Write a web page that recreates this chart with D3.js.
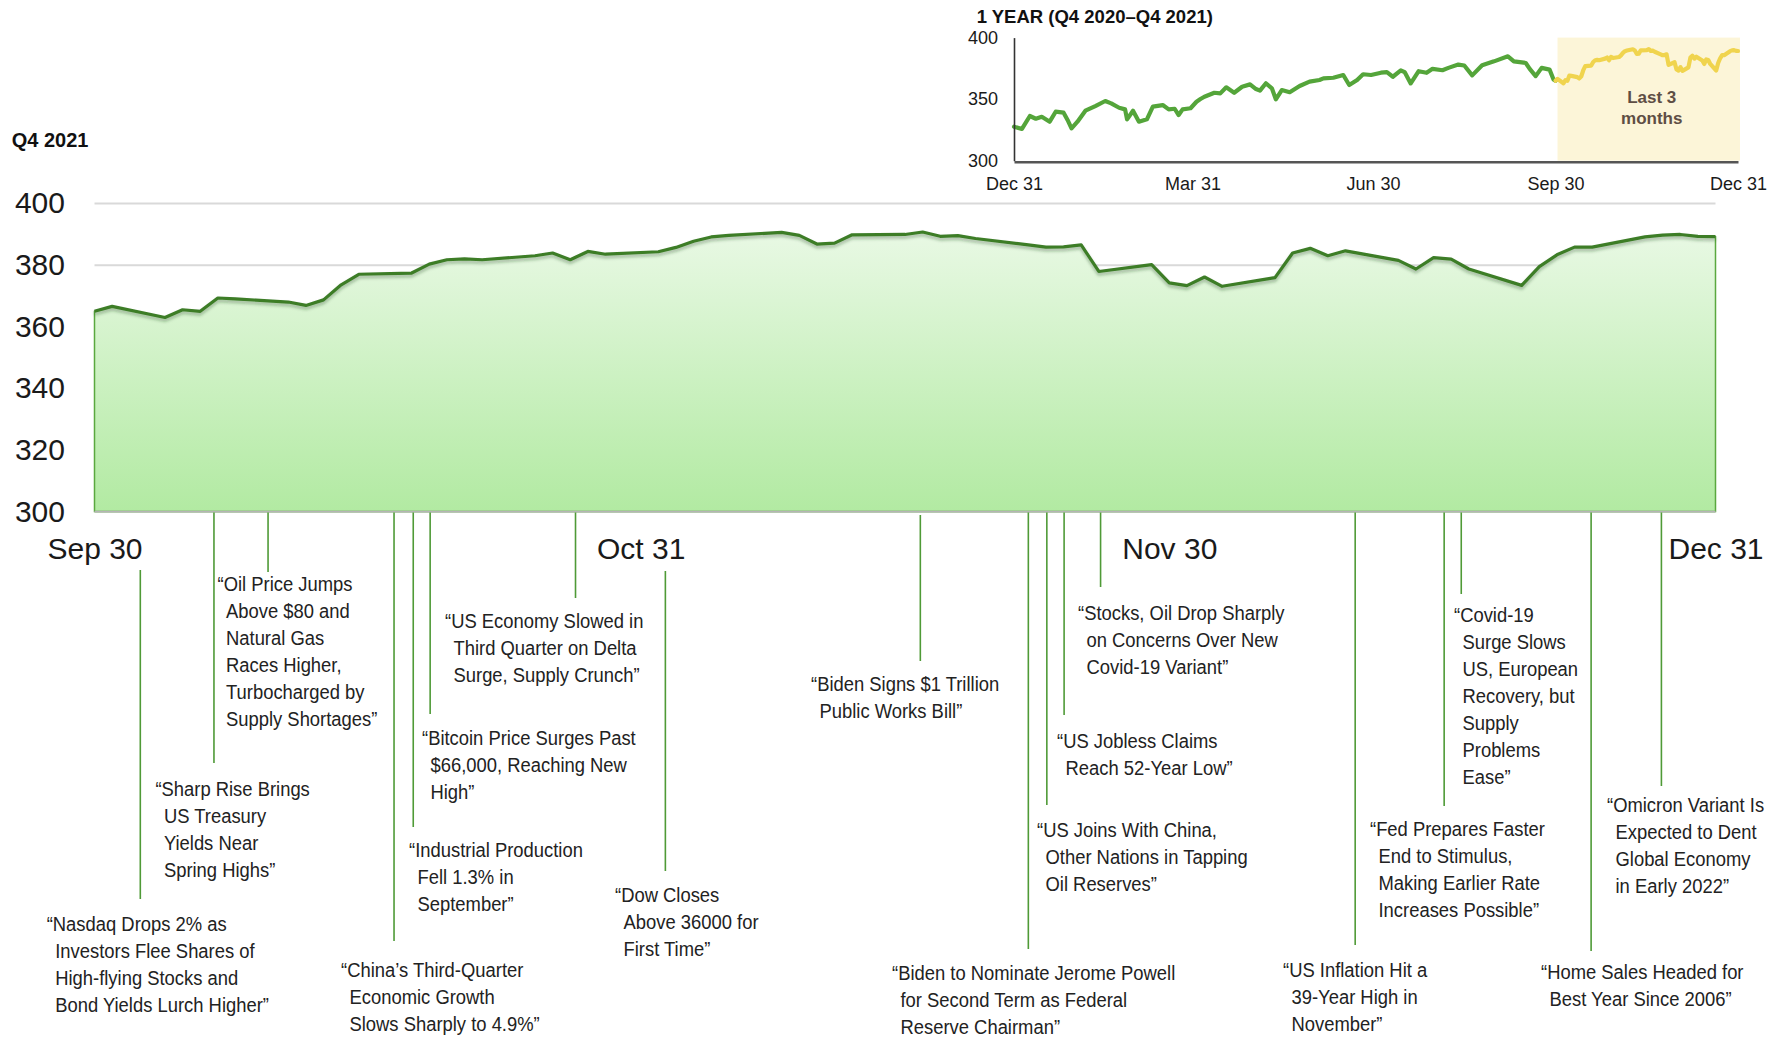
<!DOCTYPE html>
<html><head><meta charset="utf-8">
<script src="https://cdn.jsdelivr.net/npm/d3@7"></script>
<style>
html,body{margin:0;padding:0;background:#fff;}
svg{display:block;}
</style></head><body>
<svg id="chart" width="1785" height="1041"></svg>
<script>
// ---------------- DATA ----------------
// Q4 2021 daily index level (main chart, and the highlighted part of the inset)
const q4Dates = ["2021-09-30","2021-10-01","2021-10-04","2021-10-05","2021-10-06","2021-10-07","2021-10-08",
"2021-10-11","2021-10-12","2021-10-13","2021-10-14","2021-10-15","2021-10-18","2021-10-19","2021-10-20","2021-10-21","2021-10-22",
"2021-10-25","2021-10-26","2021-10-27","2021-10-28","2021-10-29","2021-11-01","2021-11-02","2021-11-03","2021-11-04","2021-11-05",
"2021-11-08","2021-11-09","2021-11-10","2021-11-11","2021-11-12","2021-11-15","2021-11-16","2021-11-17","2021-11-18","2021-11-19",
"2021-11-22","2021-11-23","2021-11-24","2021-11-25","2021-11-26","2021-11-29","2021-11-30","2021-12-01","2021-12-02","2021-12-03",
"2021-12-06","2021-12-07","2021-12-08","2021-12-09","2021-12-10","2021-12-13","2021-12-14","2021-12-15","2021-12-16","2021-12-17",
"2021-12-20","2021-12-21","2021-12-22","2021-12-23","2021-12-24","2021-12-27","2021-12-28","2021-12-29","2021-12-30","2021-12-31"];
const q4Values = [364.9,366.5,362.9,365.4,364.9,369.2,368.9,
367.9,366.8,368.6,373.5,376.9,377.3,380.2,381.6,381.9,381.6,
382.9,383.8,381.6,384.3,383.4,384.2,385.6,387.6,389.0,389.5,
390.5,389.5,386.7,387.0,389.7,389.8,390.6,389.2,389.4,388.5,
386.4,385.7,385.8,386.4,377.8,380.0,374.1,373.2,376.0,373.0,
375.8,383.8,385.3,382.9,384.5,381.4,378.6,382.3,381.8,378.6,
373.3,379.4,383.2,385.7,385.7,389.0,389.6,389.8,389.2,389.1];

// Earlier part of the one-year inset (Dec 31 2020 – Sep 29 2021)
const yearDates = ["2020-12-31","2021-01-04","2021-01-08","2021-01-11","2021-01-14","2021-01-18","2021-01-21","2021-01-25",
"2021-01-27","2021-01-29","2021-02-01","2021-02-05","2021-02-10","2021-02-15","2021-02-18","2021-02-22","2021-02-25","2021-02-26",
"2021-03-01","2021-03-04","2021-03-08","2021-03-11","2021-03-16","2021-03-19","2021-03-22","2021-03-24","2021-03-26","2021-03-30",
"2021-04-02","2021-04-04","2021-04-06","2021-04-11","2021-04-14","2021-04-17","2021-04-21","2021-04-25","2021-04-29","2021-05-02",
"2021-05-04","2021-05-07","2021-05-10","2021-05-12","2021-05-15","2021-05-19","2021-05-24","2021-05-29","2021-06-03","2021-06-05",
"2021-06-10","2021-06-15","2021-06-18","2021-06-22","2021-06-25","2021-06-29","2021-07-04","2021-07-07","2021-07-10","2021-07-14",
"2021-07-16","2021-07-19","2021-07-23","2021-07-27","2021-07-30","2021-08-04","2021-08-07","2021-08-12","2021-08-15","2021-08-19",
"2021-08-24","2021-08-30","2021-09-06","2021-09-09","2021-09-15","2021-09-17","2021-09-20","2021-09-23","2021-09-27","2021-09-29"];
const yearValues = [327.6,325.8,336.3,334.1,335.7,331.7,339.8,339.0,
333.1,326.3,331.7,340.6,344.4,348.5,346.6,343.0,341.7,333.6,
340.6,331.7,333.6,343.9,345.2,341.7,342.2,337.1,341.7,342.6,
347.9,350.1,352.0,355.2,354.7,359.6,355.2,360.1,362.0,358.2,
356.9,362.9,358.8,349.9,357.4,355.6,360.7,364.2,365.6,366.9,
367.4,369.6,361.5,365.6,370.2,369.6,371.5,371.9,368.2,373.3,
371.9,362.8,372.7,371.4,374.6,373.5,375.4,378.1,377.3,369.3,
377.5,380.7,384.8,380.7,379.4,374.6,368.7,375.4,374.0,366.0];

// Tick values and labels
const mainYTicks = [300,320,340,360,380,400];
const mainXTicks = ["2021-09-30","2021-10-31","2021-11-30","2021-12-31"];
const mainXTickLabels = ["Sep 30","Oct 31","Nov 30","Dec 31"];
const insetYTicks = [300,350,400];
const insetXTicks = ["2020-12-31","2021-03-31","2021-06-30","2021-09-30","2021-12-31"];
const insetXTickLabels = ["Dec 31","Mar 31","Jun 30","Sep 30","Dec 31"];
const mainTitle = "Q4 2021";
const insetTitle = "1 YEAR (Q4 2020\u2013Q4 2021)";
const highlightLabel = ["Last 3","months"];

// Headline events: where each leader meets the time axis, and the headline
const eventDates = ["2021-10-02T14:24","2021-10-06T18:43","2021-10-09T20:24","2021-10-17T00:00","2021-10-18T02:10",
"2021-10-19T01:12","2021-10-27T07:12","2021-11-01T09:36","2021-11-15T20:53","2021-11-22T00:00","2021-11-23T01:12",
"2021-11-24T00:43","2021-11-26T02:24","2021-12-10T13:12","2021-12-15T14:24","2021-12-16T13:41","2021-12-23T22:34","2021-12-27T22:19"];
const eventTexts = [
 ["\u201CNasdaq Drops 2% as","Investors Flee Shares of","High-flying Stocks and","Bond Yields Lurch Higher\u201D"],
 ["\u201CSharp Rise Brings","US Treasury","Yields Near","Spring Highs\u201D"],
 ["\u201COil Price Jumps","Above $80 and","Natural Gas","Races Higher,","Turbocharged by","Supply Shortages\u201D"],
 ["\u201CChina\u2019s Third-Quarter","Economic Growth","Slows Sharply to 4.9%\u201D"],
 ["\u201CIndustrial Production","Fell 1.3% in","September\u201D"],
 ["\u201CBitcoin Price Surges Past","$66,000, Reaching New","High\u201D"],
 ["\u201CUS Economy Slowed in","Third Quarter on Delta","Surge, Supply Crunch\u201D"],
 ["\u201CDow Closes","Above 36000 for","First Time\u201D"],
 ["\u201CBiden Signs $1 Trillion","Public Works Bill\u201D"],
 ["\u201CBiden to Nominate Jerome Powell","for Second Term as Federal","Reserve Chairman\u201D"],
 ["\u201CUS Joins With China,","Other Nations in Tapping","Oil Reserves\u201D"],
 ["\u201CUS Jobless Claims","Reach 52-Year Low\u201D"],
 ["\u201CStocks, Oil Drop Sharply","on Concerns Over New","Covid-19 Variant\u201D"],
 ["\u201CUS Inflation Hit a","39-Year High in","November\u201D"],
 ["\u201CFed Prepares Faster","End to Stimulus,","Making Earlier Rate","Increases Possible\u201D"],
 ["\u201CCovid-19","Surge Slows","US, European","Recovery, but","Supply","Problems","Ease\u201D"],
 ["\u201CHome Sales Headed for","Best Year Since 2006\u201D"],
 ["\u201COmicron Variant Is","Expected to Dent","Global Economy","in Early 2022\u201D"]
];

// ---------------- LAYOUT (positions only) ----------------
// text left x, first-line centre y, leader top (null = plot bottom), leader bottom
const eventLayout = [
 {tx:46.7, ty:924, top:570, bot:899},
 {tx:155.4,ty:789, top:null,bot:763},
 {tx:217.5,ty:584, top:null,bot:572},
 {tx:341,  ty:970, top:null,bot:941},
 {tx:409,  ty:850, top:null,bot:827},
 {tx:422,  ty:738, top:null,bot:714},
 {tx:445,  ty:621, top:null,bot:598},
 {tx:615,  ty:895, top:571, bot:871},
 {tx:811,  ty:684, top:515, bot:661},
 {tx:892,  ty:973, top:null,bot:949},
 {tx:1037, ty:830, top:null,bot:805},
 {tx:1057, ty:741, top:null,bot:715},
 {tx:1078, ty:613, top:null,bot:587},
 {tx:1283, ty:970, top:null,bot:945},
 {tx:1370, ty:829, top:null,bot:806},
 {tx:1454, ty:615, top:null,bot:594},
 {tx:1541, ty:972, top:null,bot:951},
 {tx:1607, ty:805, top:null,bot:786}
];
const ANN_REF_LINE = "\u201CBiden to Nominate Jerome Powell";
const ANN_REF_WIDTH = 283.5;   // width of that line in the reference

// ---------------- DRAW ----------------
const parseDay = d3.timeParse("%Y-%m-%d");
const parseDT = d3.timeParse("%Y-%m-%dT%H:%M");
const svg = d3.select("#chart");
const REG = "'Liberation Sans', Arial, sans-serif";

const q4 = q4Dates.map((d,i)=>({date:parseDay(d), value:q4Values[i]}));
const yr = yearDates.map((d,i)=>({date:parseDay(d), value:yearValues[i]}));

// main scales
const x = d3.scaleTime().domain([parseDay(mainXTicks[0]), parseDay(mainXTicks[mainXTicks.length-1])]).range([94.5,1715.5]);
const y = d3.scaleLinear().domain([300,400]).range([511.5,203]);

const defs = svg.append("defs");
const grad = defs.append("linearGradient").attr("id","areaGrad")
  .attr("gradientUnits","userSpaceOnUse").attr("x1",0).attr("x2",0).attr("y1",y(400)).attr("y2",y(300));
grad.append("stop").attr("offset","0%").attr("stop-color","#eefaeb");
grad.append("stop").attr("offset","100%").attr("stop-color","#b2eaa2");
const filt = defs.append("filter").attr("id","shadow").attr("x","-5%").attr("y","-50%").attr("width","110%").attr("height","200%");
filt.append("feDropShadow").attr("dx",0).attr("dy",2.5).attr("stdDeviation",1.6)
  .attr("flood-color","#1e3d12").attr("flood-opacity",0.35);

// gridlines
svg.append("g").attr("transform",`translate(${x.range()[0]},0)`)
  .call(d3.axisLeft(y).tickValues(mainYTicks).tickSize(-(x.range()[1]-x.range()[0])).tickFormat(""))
  .call(g=>g.select(".domain").remove())
  .call(g=>g.selectAll("line").attr("stroke","#d9d9d9").attr("stroke-width",2));

// area
const area = d3.area().x(d=>x(d.date)).y0(y(300)).y1(d=>y(d.value));
svg.append("path").datum(q4).attr("d",area).attr("fill","url(#areaGrad)")
  .attr("stroke","#5aa83f").attr("stroke-width",1.5);

// baseline
svg.append("line").attr("x1",x.range()[0]).attr("x2",x.range()[1]).attr("y1",y(300)).attr("y2",y(300))
  .attr("stroke","#b5b5b5").attr("stroke-width",1.5);

// line
const line = d3.line().x(d=>x(d.date)).y(d=>y(d.value));
svg.append("path").datum(q4).attr("d",line).attr("fill","none")
  .attr("stroke","#3c7d28").attr("stroke-width",3.2).attr("stroke-linejoin","round").attr("filter","url(#shadow)");

// y axis labels
svg.append("g").attr("transform",`translate(${x.range()[0]},0)`)
  .call(d3.axisLeft(y).tickValues(mainYTicks).tickSize(0).tickPadding(29.5))
  .call(g=>g.select(".domain").remove())
  .call(g=>g.selectAll("text").attr("font-family",REG).attr("font-size",30).attr("fill","#1a1a1a"));

// x axis labels
svg.append("g").attr("transform",`translate(0,${y(300)})`)
  .call(d3.axisBottom(x).tickValues(mainXTicks.map(parseDay)).tickSize(0).tickPadding(26)
    .tickFormat((d,i)=>mainXTickLabels[i]))
  .call(g=>g.select(".domain").remove())
  .call(g=>g.selectAll("text").attr("font-family",REG).attr("font-size",30).attr("fill","#1a1a1a"));

// title
svg.append("text").attr("x",11.7).attr("y",146.7).text(mainTitle)
  .attr("font-family",REG).attr("font-weight","bold").attr("font-size",20).attr("fill","#111");

// ---- annotations (condensed headline text) ----
const probe = svg.append("text").attr("font-family",REG).attr("font-size",21).text(ANN_REF_LINE);
const kx = ANN_REF_WIDTH / probe.node().getComputedTextLength();
probe.remove();

const LH = 27, INDENT = 8.5;
const ann = svg.append("g");
eventDates.forEach((ds,i)=>{
  const L = eventLayout[i];
  const ex = x(parseDT(ds));
  ann.append("line").attr("x1",ex).attr("x2",ex)
    .attr("y1", L.top==null ? y(300)+1 : L.top).attr("y2",L.bot)
    .attr("stroke","#4f9a37").attr("stroke-width",1.6);
  const t = ann.append("text").attr("transform",`translate(${L.tx},0) scale(${kx},1)`)
    .attr("font-family",REG).attr("font-size",21).attr("fill","#222");
  eventTexts[i].forEach((s,j)=>{
    t.append("tspan").attr("x", j===0 ? 0 : INDENT/kx).attr("y", L.ty + j*LH + 7.5).text(s);
  });
});

// ---------------- INSET ----------------
const xi = d3.scaleTime().domain([parseDay(insetXTicks[0]), parseDay(insetXTicks[insetXTicks.length-1])]).range([1014,1738]);
const yi = d3.scaleLinear().domain([300,400]).range([160.7,37.6]);

// highlight of the last 3 months
svg.append("rect").attr("x",xi(parseDay("2021-09-30"))+2).attr("y",yi(400))
  .attr("width",xi.range()[1]-xi(parseDay("2021-09-30"))).attr("height",yi(300)-yi(400))
  .attr("fill","#fcf5d8");

const lineI = d3.line().x(d=>xi(d.date)).y(d=>yi(d.value)).curve(d3.curveLinear);
svg.append("path").datum(yr.concat([q4[0]])).attr("d",lineI).attr("fill","none")
  .attr("stroke","#54a53a").attr("stroke-width",4.2).attr("stroke-linejoin","round").attr("stroke-linecap","round");
svg.append("path").datum(q4).attr("d",lineI).attr("fill","none")
  .attr("stroke","#f0d44e").attr("stroke-width",4.2).attr("stroke-linejoin","round").attr("stroke-linecap","round");

// inset axes
svg.append("g").attr("transform",`translate(${xi.range()[0]},0)`)
  .call(d3.axisLeft(yi).tickValues(insetYTicks).tickSize(0).tickPadding(16))
  .call(g=>g.select(".domain").attr("stroke","#333").attr("stroke-width",1.6))
  .call(g=>g.selectAll("text").attr("font-family",REG).attr("font-size",18).attr("fill","#1a1a1a"));
svg.append("g").attr("transform",`translate(0,${yi(300)+1})`)
  .call(d3.axisBottom(xi).tickValues(insetXTicks.map(parseDay)).tickSize(0).tickPadding(15.5)
    .tickFormat((d,i)=>insetXTickLabels[i]))
  .call(g=>g.select(".domain").attr("stroke","#555").attr("stroke-width",2.4))
  .call(g=>g.selectAll("text").attr("font-family",REG).attr("font-size",18).attr("fill","#1a1a1a"));

svg.append("text").attr("x",976.7).attr("y",22.7).text(insetTitle)
  .attr("font-family",REG).attr("font-weight","bold").attr("font-size",18.5).attr("fill","#111");

const hx = (xi(parseDay("2021-09-30")) + xi.range()[1])/2 + 5;
const hl = svg.append("text").attr("font-family",REG).attr("font-weight","bold").attr("font-size",17)
  .attr("fill","#5e4e44").attr("text-anchor","middle");
highlightLabel.forEach((s,j)=>hl.append("tspan").attr("x",hx).attr("y",102.8 + j*21.6).text(s));
</script>
</body></html>
